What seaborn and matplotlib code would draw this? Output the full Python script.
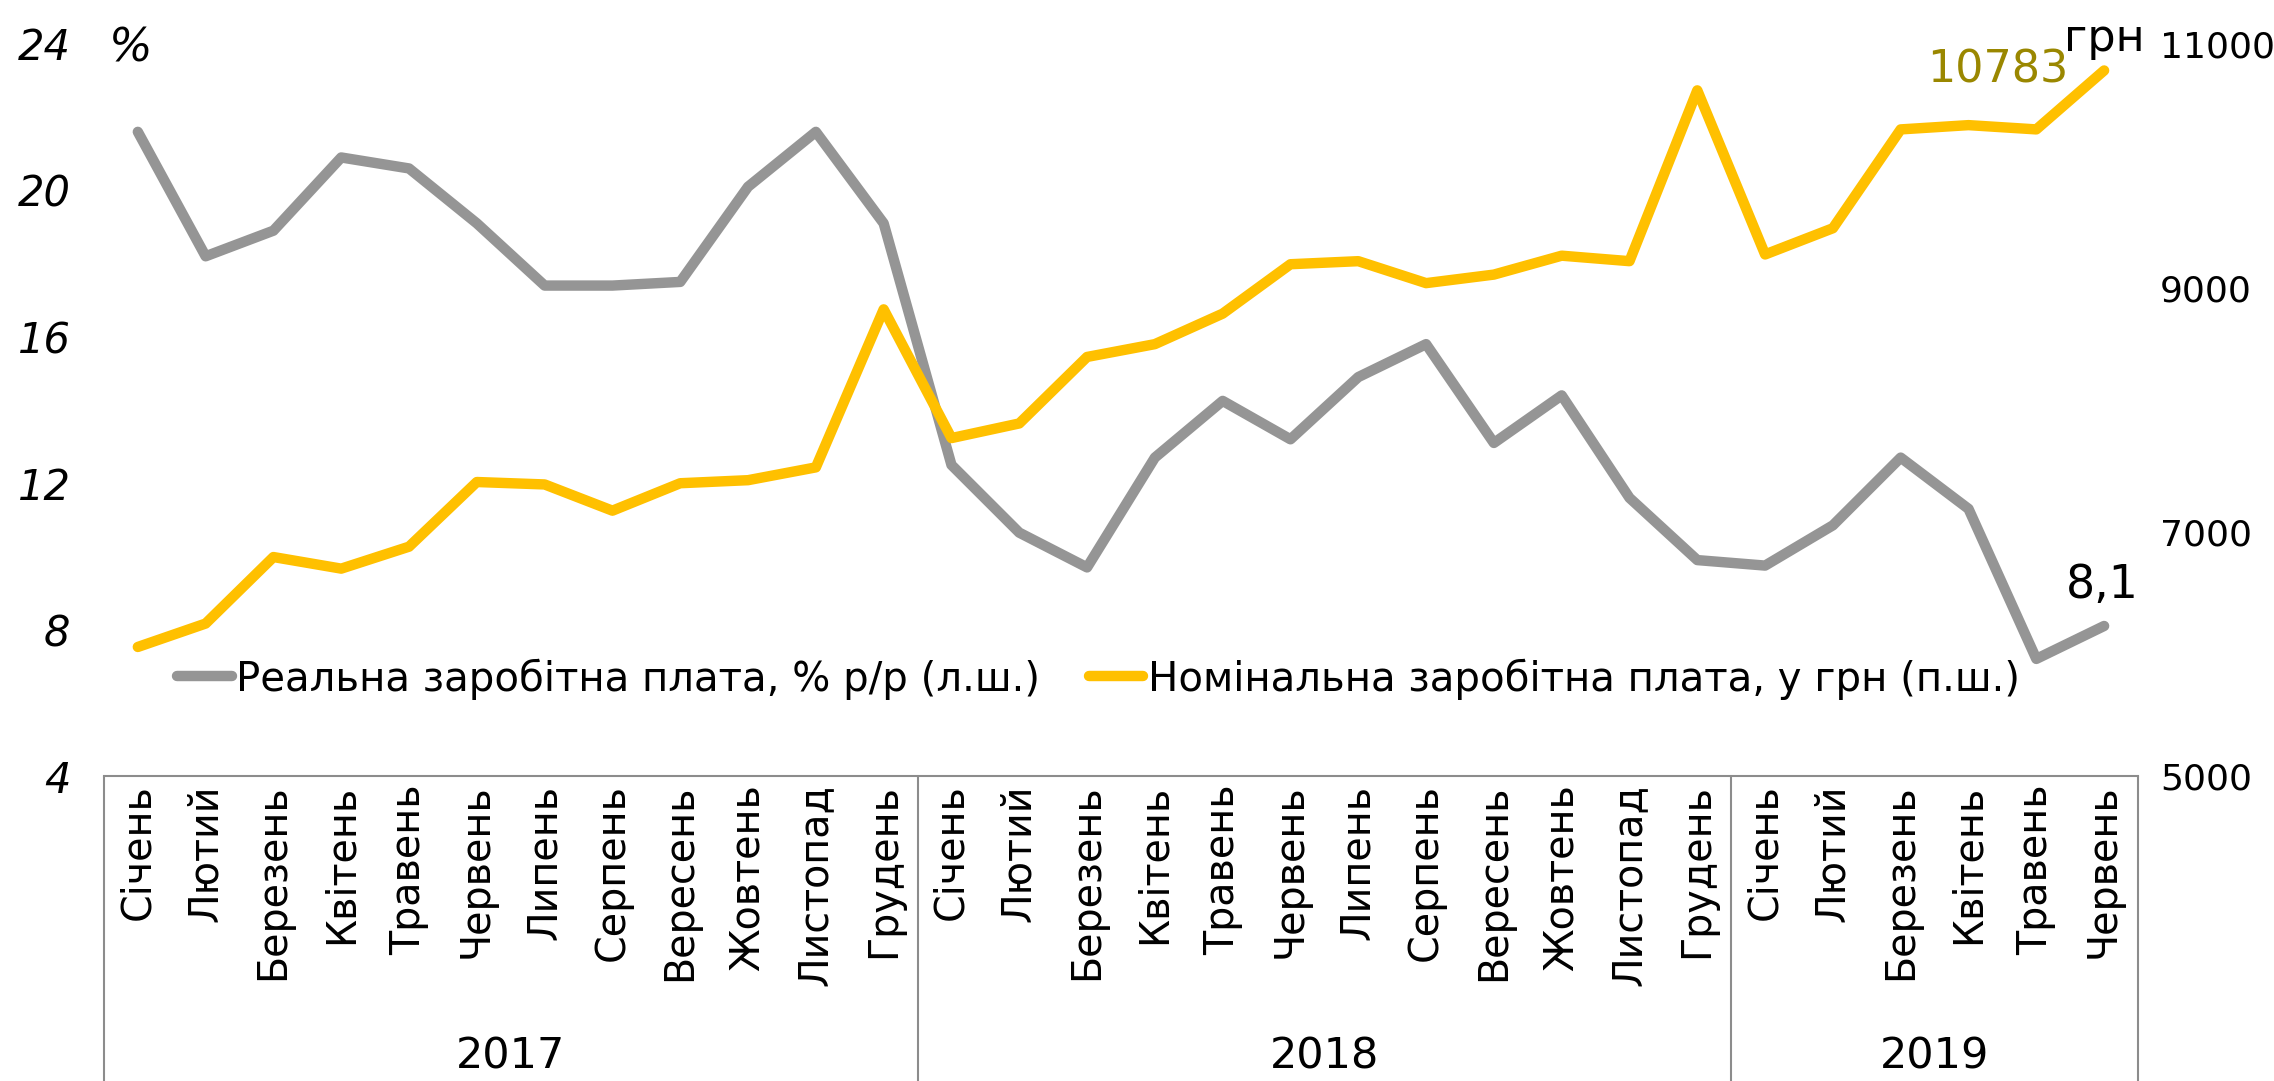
import matplotlib
matplotlib.use("Agg")
import matplotlib.pyplot as plt
import seaborn as sns
import numpy as np
import pandas as pd

months = ["Січень", "Лютий", "Березень", "Квітень", "Травень", "Червень",
          "Липень", "Серпень", "Вересень", "Жовтень", "Листопад", "Грудень"]
years = ["2017", "2018", "2019"]
month_labels = months + months + months[:6]
year_sizes = [12, 12, 6]

# real wage, % y/y (left axis)
real_wage = [21.6, 18.2, 18.9, 20.9, 20.6, 19.1, 17.4, 17.4, 17.5, 20.1, 21.6, 19.1,
             12.5, 10.65, 9.7, 12.7, 14.25, 13.2, 14.9, 15.8, 13.1, 14.4, 11.6, 9.9,
             9.75, 10.85, 12.7, 11.3, 7.2, 8.1]
# nominal wage, UAH (right axis)
nominal_wage = [6058, 6250, 6795, 6700, 6880, 7410, 7390, 7175, 7400, 7425, 7530, 8825,
                7770, 7890, 8435, 8540, 8790, 9195, 9220, 9040, 9110, 9265, 9220, 10620,
                9275, 9490, 10300, 10335, 10300, 10783]

left_ticks = [4, 8, 12, 16, 20, 24]
right_ticks = [5000, 7000, 9000, 11000]

gray = "#959595"
yellow = "#FFC000"

df = pd.DataFrame({"idx": np.arange(len(month_labels)),
                   "real": real_wage, "nominal": nominal_wage})

sns.set_style("white")
plt.rcParams["font.family"] = ["DejaVu Sans"]
plt.rcParams["text.color"] = "black"
plt.rcParams["xtick.color"] = "black"
plt.rcParams["ytick.color"] = "black"

fig = plt.figure(figsize=(22.74, 10.81), dpi=100)
ax = fig.add_axes([0.0457, 0.2821, 0.8945, 0.6772])
ax2 = ax.twinx()

sns.lineplot(data=df, x="idx", y="real", ax=ax, color=gray, lw=7.5,
             sort=False, label="Реальна заробітна плата, % р/р (л.ш.)", legend=False)
sns.lineplot(data=df, x="idx", y="nominal", ax=ax2, color=yellow, lw=7.5,
             sort=False, label="Номінальна заробітна плата, у грн (п.ш.)", legend=False)

n = len(month_labels)
ax.set_xlim(-0.5, n - 0.5)
ax.set_ylim(4, 24)
ax2.set_ylim(5000, 11000)

ax.set_yticks(left_ticks)
ax.set_yticklabels([str(t) for t in left_ticks], fontsize=30, style="italic")
ax2.set_yticks(right_ticks)
ax2.set_yticklabels([str(t) for t in right_ticks], fontsize=26)
ax.tick_params(axis="y", length=0, pad=24)
ax2.tick_params(axis="y", length=0, pad=16)

ax.set_xticks(range(n))
ax.set_xticklabels(month_labels, rotation=90, fontsize=28.5, va="top")
ax.tick_params(axis="x", length=0, pad=6)
ax.set_xlabel("")
ax.set_ylabel("")
ax2.set_ylabel("")

for a in (ax, ax2):
    for s in a.spines.values():
        s.set_visible(False)
ax.spines["bottom"].set_visible(True)
ax.spines["bottom"].set_color("#8c8c8c")
ax.spines["bottom"].set_linewidth(1.5)

# category box under the axis
trans = ax.get_xaxis_transform()
box_bottom = -0.42
bounds = np.concatenate([[0], np.cumsum(year_sizes)]) - 0.5
for b in bounds:
    ax.plot([b, b], [0, box_bottom], transform=trans, color="#8c8c8c",
            lw=1.5, clip_on=False)
for i, yr in enumerate(years):
    mid = (bounds[i] + bounds[i + 1]) / 2
    ax.text(mid, -0.383, yr, transform=trans, ha="center", va="center",
            fontsize=31)

# unit labels and end values
ax.text(-0.1, 23.85, "%", ha="center", va="center", fontsize=33, style="italic")
ax2.annotate("грн", xy=(n - 1, nominal_wage[-1]), xytext=(0, 23),
             textcoords="offset points", ha="center", va="center", fontsize=32)
ax2.annotate(f"{nominal_wage[-1]}", xy=(n - 1, nominal_wage[-1]), xytext=(-26, 0),
             textcoords="offset points", ha="right", va="center",
             fontsize=32, color="#9A8700")
ax.annotate(f"{real_wage[-1]}".replace(".", ","), xy=(n - 1, real_wage[-1]),
            xytext=(-1, 29), textcoords="offset points", ha="center", va="center",
            fontsize=33)

h1, l1 = ax.get_legend_handles_labels()
h2, l2 = ax2.get_legend_handles_labels()
fig.legend(h1 + h2, l1 + l2, loc="center left", bbox_to_anchor=(0.062, 0.372),
           ncol=2, frameon=False, fontsize=29, handlelength=1.35,
           handletextpad=0.12, columnspacing=1.2)

fig.savefig("out.png", dpi=100)
